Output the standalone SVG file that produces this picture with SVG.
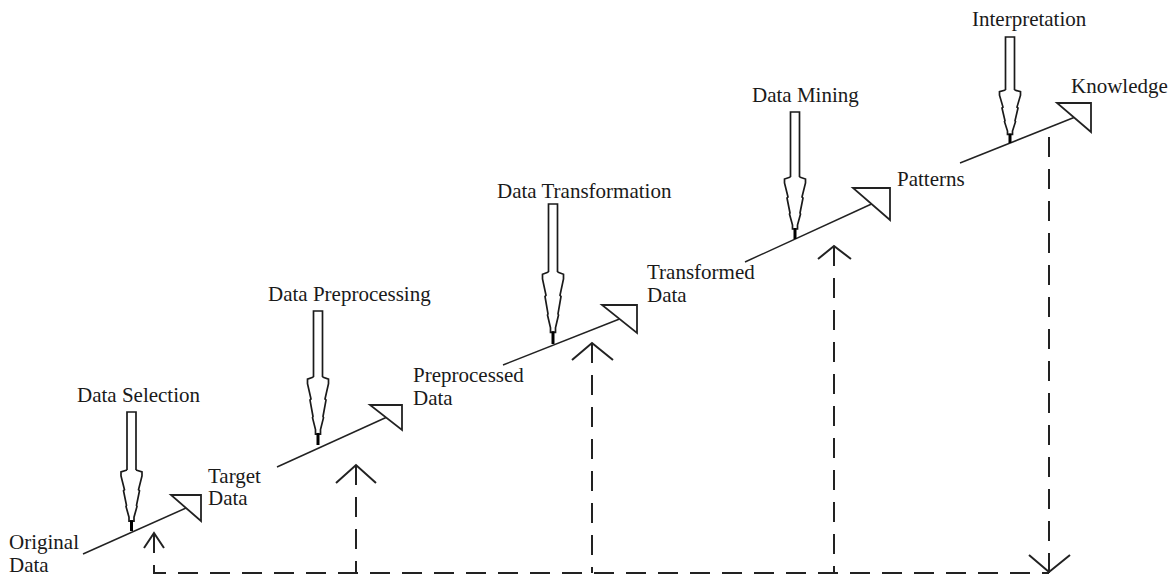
<svg xmlns="http://www.w3.org/2000/svg" xmlns:xlink="http://www.w3.org/1999/xlink" width="1171" height="577" viewBox="0 0 1171 577">
<style>
.lbl{font-family:"Liberation Serif","Times New Roman",serif;font-size:21px;fill:#1a1a1a}
.hol{fill:#fff;stroke:#1a1a1a;stroke-width:1.7;stroke-linejoin:miter}
.tip{stroke:#000;stroke-width:3}
.ramp{fill:none;stroke:#222;stroke-width:1.5}
.head{fill:#fff;stroke:#222;stroke-width:1.8;stroke-linejoin:miter}
.dash{fill:none;stroke:#222;stroke-width:2;stroke-dasharray:20 12}
.vee{fill:none;stroke:#222;stroke-width:2}
</style>
<defs>
<g id="taperg">
<path class="hol" vector-effect="non-scaling-stroke" d="M-4.5,0 L-10.5,2 L-10.5,6 L-7,20 L-8,21 L-5,36 L-5.5,37 L-2.5,48 L-2.5,52 L2.5,52 L2.5,48 L5.5,37 L5,36 L8,21 L7,20 L10.5,6 L10.5,2 L4.5,0"/>
<line class="tip" vector-effect="non-scaling-stroke" x1="0" y1="51" x2="0" y2="62"/>
</g>
</defs>
<rect width="1171" height="577" fill="#fff"/>

<g id="connectors">
<path class="dash" d="M154,533 V573 H1049"/>
<path class="dash" d="M1049,137 V573"/>
<path class="dash" d="M356,465 V573"/>
<path class="dash" d="M592,343 V573"/>
<path class="dash" d="M834,246 V573"/>
<polyline class="vee" points="144,548 154,533 164,548"/>
<polyline class="vee" points="336,483 356,465 376,483"/>
<polyline class="vee" points="572,360 592,343 613,360"/>
<polyline class="vee" points="818,259 834,246 851,259"/>
<polyline class="vee" points="1029,555 1049,572 1070,555"/>
<line class="ramp" x1="83" y1="554" x2="186" y2="508"/>
<polygon class="head" points="171,495 201,495 201,521"/>
<line class="ramp" x1="277" y1="467" x2="386" y2="417.5"/>
<polygon class="head" points="370,405 402,405 402,430"/>
<line class="ramp" x1="503" y1="365" x2="619.5" y2="319"/>
<polygon class="head" points="602,305 637,305 637,333"/>
<line class="ramp" x1="745" y1="262" x2="871.5" y2="204"/>
<polygon class="head" points="853,188 890,188 890,220"/>
<line class="ramp" x1="960" y1="163" x2="1074" y2="117.5"/>
<polygon class="head" points="1057,103 1091,103 1091,132"/>
</g>

<g id="original-data"><text class="lbl" x="9" y="549">Original</text><text class="lbl" x="9" y="572">Data</text></g>
<g id="target-data"><text class="lbl" x="208" y="483">Target</text><text class="lbl" x="208" y="505">Data</text></g>
<g id="preprocessed-data"><text class="lbl" x="413" y="382">Preprocessed</text><text class="lbl" x="413" y="405">Data</text></g>
<g id="transformed-data"><text class="lbl" x="647" y="279">Transformed</text><text class="lbl" x="647" y="302">Data</text></g>
<g id="patterns"><text class="lbl" x="897" y="186">Patterns</text></g>
<g id="knowledge"><text class="lbl" x="1071" y="93">Knowledge</text></g>

<g id="data-selection">
<text class="lbl" x="77" y="402">Data Selection</text>
<g transform="translate(131.5,470)"><path class="hol" d="M-4.5,0.5 V-58 H4.5 V0.5"/><use href="#taperg" transform="scale(1,0.984)"/></g>
</g>
<g id="data-preprocessing">
<text class="lbl" x="268" y="301">Data Preprocessing</text>
<g transform="translate(318,377)"><path class="hol" d="M-4.5,0.5 V-66 H4.5 V0.5"/><use href="#taperg" transform="scale(1,1.097)"/></g>
</g>
<g id="data-transformation">
<text class="lbl" x="497" y="198">Data Transformation</text>
<g transform="translate(553,272)"><path class="hol" d="M-4.5,0.5 V-68 H4.5 V0.5"/><use href="#taperg" transform="scale(1,1.161)"/></g>
</g>
<g id="data-mining">
<text class="lbl" x="752" y="102">Data Mining</text>
<g transform="translate(795,177)"><path class="hol" d="M-4.5,0.5 V-65 H4.5 V0.5"/><use href="#taperg" transform="scale(1,1)"/></g>
</g>
<g id="interpretation">
<text class="lbl" x="972" y="26">Interpretation</text>
<g transform="translate(1010,90)"><path class="hol" d="M-4.5,0.5 V-53 H4.5 V0.5"/><use href="#taperg" transform="scale(1,0.855)"/></g>
</g>
</svg>
